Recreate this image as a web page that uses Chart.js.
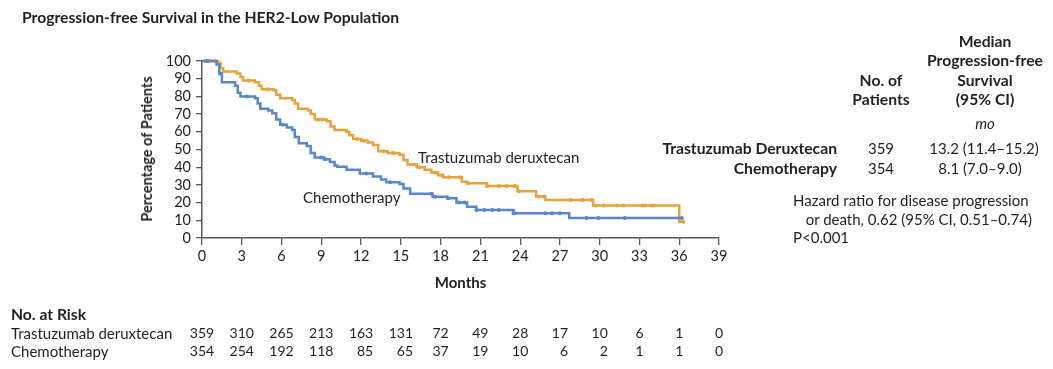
<!DOCTYPE html>
<html>
<head>
<meta charset="utf-8">
<script src="https://cdn.jsdelivr.net/npm/chart.js@4"></script>
<style>
  html, body { margin: 0; padding: 0; background: #fff; }
  #wrap { position: relative; width: 1053px; height: 369px; font-family: Lato, "Open Sans", sans-serif; color: #231f20; }
  #wrap canvas { position: absolute; left: 0; top: 0; }
  .t { position: absolute; white-space: nowrap; font-size: 15px; line-height: 16px; }
  .b { font-weight: bold; }
  .h { font-size: 15.7px; }
  .c { transform: translate(-50%, -50%); text-align: center; }
  .l { transform: translate(0, -50%); }
  .r { transform: translate(-100%, -50%); text-align: right; }
  .v { transform: translate(-50%, -50%) rotate(-90deg); }
  .col { position: absolute; text-align: right; font-size: 14px; line-height: 18px; transform: translateX(-50%); white-space: nowrap; }
</style>
</head>
<body>
<div id="wrap">
  <canvas id="km" width="1053" height="369"></canvas>

  <div class="t b l h" style="left:22px; top:17px;">Progression-free Survival in the HER2-Low Population</div>
  <div class="t b v" style="left:147px; top:149px; font-size:14.5px;">Percentage of Patients</div>

  <div class="t b c h" style="left:985px; top:41px;">Median</div>
  <div class="t b c h" style="left:985px; top:60px;">Progression-free</div>
  <div class="t b c h" style="left:985px; top:80px;">Survival</div>
  <div class="t b c h" style="left:985px; top:99px;">(95% CI)</div>
  <div class="t b c h" style="left:881px; top:80px;">No. of</div>
  <div class="t b c h" style="left:881px; top:99px;">Patients</div>
  <div class="t c" style="left:985px; top:123px; font-style:italic;">mo</div>

  <div class="t b r h" style="left:837px; top:148px;">Trastuzumab Deruxtecan</div>
  <div class="t b r h" style="left:837px; top:168px;">Chemotherapy</div>
  <div class="t c" style="left:881px; top:148px;">359</div>
  <div class="t c" style="left:881px; top:168px;">354</div>
  <div class="t c" style="left:984px; top:148px;">13.2 (11.4–15.2)</div>
  <div class="t c" style="left:980px; top:168px;">8.1 (7.0–9.0)</div>

  <div class="t l" style="left:793px; top:200px;">Hazard ratio for disease progression</div>
  <div class="t r" style="left:1032px; top:219px;">or death, 0.62 (95% CI, 0.51–0.74)</div>
  <div class="t l" style="left:793px; top:237px;">P&lt;0.001</div>

  <div class="t l" style="left:418px; top:157px;">Trastuzumab deruxtecan</div>
  <div class="t l" style="left:303px; top:197px;">Chemotherapy</div>

  <div class="t b l h" style="left:11px; top:314px;">No. at Risk</div>
  <div class="t l" style="left:11px; top:333px;">Trastuzumab deruxtecan</div>
  <div class="t l" style="left:11px; top:351px;">Chemotherapy</div>
</div>

<script>
// step points: [month, % progression-free after the drop]
const tdxdCurve = [
  [0, 100], [1.2, 99], [1.4, 96], [1.6, 94], [2.6, 93], [2.9, 91], [3.1, 89],
  [4.0, 88], [4.3, 86], [4.5, 84], [5.4, 83.5], [5.6, 81], [5.9, 79], [6.8, 78],
  [7.0, 76], [7.25, 73], [8.0, 72], [8.2, 70], [8.5, 67], [9.4, 66], [9.7, 63],
  [10.0, 61], [10.9, 60], [11.1, 58], [11.4, 56], [12.0, 55], [12.5, 54],
  [12.9, 52.5], [13.3, 49], [14.0, 48], [14.9, 47], [15.2, 44], [15.5, 41.5],
  [16.2, 40], [16.8, 38.5], [17.3, 37], [17.8, 35.5], [18.2, 34.3], [19.6, 31.8],
  [20.0, 30.9], [21.5, 29.4], [23.8, 26.4], [25.2, 23.4], [25.9, 21.5],
  [29.5, 18.3], [36.0, 9.2], [36.3, 9.2]
];
const chemoCurve = [
  [0, 100], [1.1, 98], [1.3, 93], [1.5, 88], [2.5, 86], [2.7, 82], [2.9, 80],
  [4.0, 79], [4.2, 76], [4.4, 73], [5.0, 72], [5.3, 70.5], [5.6, 67], [5.9, 64],
  [6.4, 62.5], [6.8, 61], [7.0, 57], [7.3, 53.5], [7.9, 52], [8.2, 48],
  [8.5, 45.5], [9.2, 44.5], [9.65, 43], [10.0, 41], [10.2, 40.3], [10.9, 38.5],
  [11.9, 36.5], [12.9, 34.8], [13.5, 33], [13.9, 31.5], [14.9, 30.5], [15.2, 28],
  [15.7, 25], [17.4, 23.3], [18.5, 22.4], [19.2, 20], [20.0, 17.7], [20.7, 15.8],
  [23.5, 14], [27.7, 11.3], [36.2, 11.3]
];

// censoring marks (months)
const tdxdCensored = [0.3, 0.6, 1.0, 3.5, 5.0, 8.8, 9.1, 11.7, 12.2, 13.7, 14.4,
  16.0, 16.4, 17.6, 18.1, 18.6, 19.5, 20.1, 21.5, 22.4, 23.0, 23.6, 23.9, 25.4,
  25.8, 27.8, 28.7, 29.4, 29.7, 30.3, 31.3, 31.8, 33.2, 33.4, 33.9, 34.1, 36.3];
const chemoCensored = [0.4, 1.4, 3.4, 6.1, 9.0, 9.3, 12.4, 14.2, 17.3, 17.6,
  18.6, 19.4, 19.8, 20.7, 21.3, 21.9, 22.4, 23.5, 23.6, 25.9, 26.4, 27.0, 29.0,
  29.9, 31.9, 36.2];

const riskMonths = [0, 3, 6, 9, 12, 15, 18, 21, 24, 27, 30, 33, 36, 39];
const tdxdAtRisk = [359, 310, 265, 213, 163, 131, 72, 49, 28, 17, 10, 6, 1, 0];
const chemoAtRisk = [354, 254, 192, 118, 85, 65, 37, 19, 10, 6, 2, 1, 1, 0];

const orange = "#E9A23B";
const blue = "#5A87CC";
const axisColor = "#58595b";
const textColor = "#231f20";

const toXY = (pts) => pts.map(([x, y]) => ({ x, y }));
const survAt = (pts, t) => {
    let s = pts[0][1];
    for (const [x, y] of pts) if (x <= t) s = y;
    return s;
};
const censorXY = (pts, times) => times.map((t) => ({ x: t, y: survAt(pts, t) }));

const ctx = document.getElementById("km").getContext("2d");
const chart = new Chart(ctx, {
    type: "line",
    data: {
        datasets: [
            {
                data: toXY(chemoCurve), stepped: "before", borderColor: blue,
                borderWidth: 2.5, pointRadius: 0, fill: false, clip: false,
            },
            {
                type: "scatter", data: censorXY(chemoCurve, chemoCensored),
                pointRadius: 2, backgroundColor: blue, borderWidth: 0, clip: false,
            },
            {
                data: toXY(tdxdCurve), stepped: "before", borderColor: orange,
                borderWidth: 2.5, pointRadius: 0, fill: false, clip: false,
            },
            {
                type: "scatter", data: censorXY(tdxdCurve, tdxdCensored),
                pointRadius: 2, backgroundColor: orange, borderWidth: 0, clip: false,
            },
        ],
    },
    options: {
        responsive: false,
        animation: false,
        layout: { padding: { left: 128, top: 61, right: 334, bottom: 69 } },
        plugins: { legend: { display: false }, tooltip: { enabled: false } },
        scales: {
            x: {
                type: "linear", min: 0, max: 39,
                afterFit: (s) => { s.height = 62; },
                ticks: {
                    stepSize: 3, padding: 3, color: textColor, autoSkip: false,
                    font: { family: "Lato", size: 14.5 },
                },
                grid: { drawOnChartArea: false, tickLength: 7, color: axisColor, lineWidth: 1.3 },
                border: { color: axisColor, width: 1.5 },
                title: {
                    display: true, text: "Months", color: textColor,
                    font: { family: "Lato", size: 15, weight: "bold" },
                    padding: { top: 0, bottom: 8 },
                },
            },
            y: {
                min: 0, max: 100,
                afterFit: (s) => { s.width = 74; },
                ticks: {
                    stepSize: 10, padding: 5, color: textColor, autoSkip: false,
                    font: { family: "Lato", size: 14.5 },
                },
                grid: { drawOnChartArea: false, tickLength: 6, color: axisColor, lineWidth: 1.3 },
                border: { color: axisColor, width: 1.5 },
            },
        },
    },
});

// number-at-risk table, one column per x tick
const wrap = document.getElementById("wrap");
riskMonths.forEach((m, i) => {
    const col = document.createElement("div");
    col.className = "col";
    col.style.left = chart.scales.x.getPixelForValue(m) + "px";
    col.style.top = "324px";
    col.innerHTML = tdxdAtRisk[i] + "<br>" + chemoAtRisk[i];
    wrap.appendChild(col);
});
</script>
</body>
</html>
